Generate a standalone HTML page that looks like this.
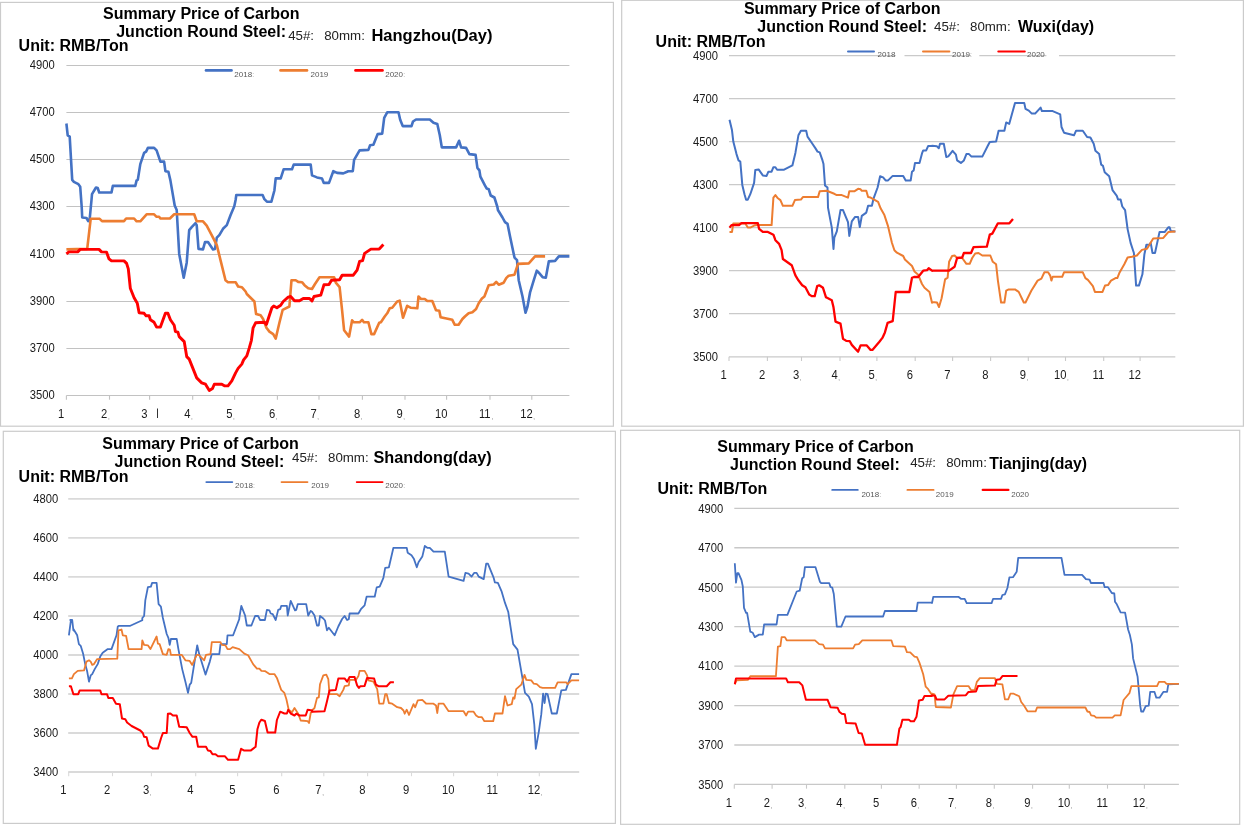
<!DOCTYPE html>
<html><head><meta charset="utf-8"><title>Summary Price of Carbon Junction Round Steel</title>
<style>
html,body{margin:0;padding:0;background:#fff;}
body{width:1245px;height:826px;overflow:hidden;}
svg{display:block;font-family:"Liberation Sans", Arial, sans-serif;}
</style></head><body>
<svg width="1245" height="826" viewBox="0 0 1245 826">
<rect x="0" y="0" width="1245" height="826" fill="#fff"/>
<rect x="0.5" y="2.4" width="612.9" height="423.8" fill="#fff" stroke="#CBCBCB" stroke-width="1.2"/>
<line x1="66.4" y1="65.5" x2="569.4" y2="65.5" stroke="#C2C2C2" stroke-width="1"/>
<line x1="66.4" y1="112.5" x2="569.4" y2="112.5" stroke="#C2C2C2" stroke-width="1"/>
<line x1="66.4" y1="159.5" x2="569.4" y2="159.5" stroke="#C2C2C2" stroke-width="1"/>
<line x1="66.4" y1="206.5" x2="569.4" y2="206.5" stroke="#C2C2C2" stroke-width="1"/>
<line x1="66.4" y1="254.5" x2="569.4" y2="254.5" stroke="#C2C2C2" stroke-width="1"/>
<line x1="66.4" y1="301.5" x2="569.4" y2="301.5" stroke="#C2C2C2" stroke-width="1"/>
<line x1="66.4" y1="348.5" x2="569.4" y2="348.5" stroke="#C2C2C2" stroke-width="1"/>
<line x1="66.4" y1="395.5" x2="569.4" y2="395.5" stroke="#C2C2C2" stroke-width="1"/>
<line x1="66.4" y1="395.5" x2="66.4" y2="399.7" stroke="#C2C2C2" stroke-width="1.1"/>
<line x1="109.5" y1="395.5" x2="109.5" y2="399.7" stroke="#C2C2C2" stroke-width="1.1"/>
<line x1="149.6" y1="395.5" x2="149.6" y2="399.7" stroke="#C2C2C2" stroke-width="1.1"/>
<line x1="192.7" y1="395.5" x2="192.7" y2="399.7" stroke="#C2C2C2" stroke-width="1.1"/>
<line x1="234.6" y1="395.5" x2="234.6" y2="399.7" stroke="#C2C2C2" stroke-width="1.1"/>
<line x1="277.4" y1="395.5" x2="277.4" y2="399.7" stroke="#C2C2C2" stroke-width="1.1"/>
<line x1="319" y1="395.5" x2="319" y2="399.7" stroke="#C2C2C2" stroke-width="1.1"/>
<line x1="362.4" y1="395.5" x2="362.4" y2="399.7" stroke="#C2C2C2" stroke-width="1.1"/>
<line x1="405" y1="395.5" x2="405" y2="399.7" stroke="#C2C2C2" stroke-width="1.1"/>
<line x1="446.6" y1="395.5" x2="446.6" y2="399.7" stroke="#C2C2C2" stroke-width="1.1"/>
<line x1="490" y1="395.5" x2="490" y2="399.7" stroke="#C2C2C2" stroke-width="1.1"/>
<line x1="531.8" y1="395.5" x2="531.8" y2="399.7" stroke="#C2C2C2" stroke-width="1.1"/>
<text transform="translate(54.8 69) scale(0.92 1)" font-size="12.2" text-anchor="end" fill="#1a1a1a">4900</text>
<text transform="translate(54.8 116) scale(0.92 1)" font-size="12.2" text-anchor="end" fill="#1a1a1a">4700</text>
<text transform="translate(54.8 163) scale(0.92 1)" font-size="12.2" text-anchor="end" fill="#1a1a1a">4500</text>
<text transform="translate(54.8 210) scale(0.92 1)" font-size="12.2" text-anchor="end" fill="#1a1a1a">4300</text>
<text transform="translate(54.8 258) scale(0.92 1)" font-size="12.2" text-anchor="end" fill="#1a1a1a">4100</text>
<text transform="translate(54.8 305) scale(0.92 1)" font-size="12.2" text-anchor="end" fill="#1a1a1a">3900</text>
<text transform="translate(54.8 352) scale(0.92 1)" font-size="12.2" text-anchor="end" fill="#1a1a1a">3700</text>
<text transform="translate(54.8 399) scale(0.92 1)" font-size="12.2" text-anchor="end" fill="#1a1a1a">3500</text>
<text transform="translate(61.1 418) scale(0.92 1)" font-size="12.2" text-anchor="middle" fill="#1a1a1a">1</text>
<text transform="translate(104.2 418) scale(0.92 1)" font-size="12.2" text-anchor="middle" fill="#1a1a1a">2</text>
<text x="107.7" y="418.5" font-size="8" font-weight="normal" text-anchor="start" fill="#999" >,</text>
<text transform="translate(144.3 418) scale(0.92 1)" font-size="12.2" text-anchor="middle" fill="#1a1a1a">3</text>
<text transform="translate(187.4 418) scale(0.92 1)" font-size="12.2" text-anchor="middle" fill="#1a1a1a">4</text>
<text x="190.8" y="418.5" font-size="8" font-weight="normal" text-anchor="start" fill="#999" >,</text>
<text transform="translate(229.3 418) scale(0.92 1)" font-size="12.2" text-anchor="middle" fill="#1a1a1a">5</text>
<text x="232.8" y="418.5" font-size="8" font-weight="normal" text-anchor="start" fill="#999" >,</text>
<text transform="translate(272.1 418) scale(0.92 1)" font-size="12.2" text-anchor="middle" fill="#1a1a1a">6</text>
<text x="275.5" y="418.5" font-size="8" font-weight="normal" text-anchor="start" fill="#999" >,</text>
<text transform="translate(313.7 418) scale(0.92 1)" font-size="12.2" text-anchor="middle" fill="#1a1a1a">7</text>
<text x="317.1" y="418.5" font-size="8" font-weight="normal" text-anchor="start" fill="#999" >,</text>
<text transform="translate(357.1 418) scale(0.92 1)" font-size="12.2" text-anchor="middle" fill="#1a1a1a">8</text>
<text x="360.5" y="418.5" font-size="8" font-weight="normal" text-anchor="start" fill="#999" >,</text>
<text transform="translate(399.7 418) scale(0.92 1)" font-size="12.2" text-anchor="middle" fill="#1a1a1a">9</text>
<text x="403.1" y="418.5" font-size="8" font-weight="normal" text-anchor="start" fill="#999" >,</text>
<text transform="translate(441.3 418) scale(0.92 1)" font-size="12.2" text-anchor="middle" fill="#1a1a1a">10</text>
<text transform="translate(484.7 418) scale(0.92 1)" font-size="12.2" text-anchor="middle" fill="#1a1a1a">11</text>
<text x="491.3" y="418.5" font-size="8" font-weight="normal" text-anchor="start" fill="#999" >,</text>
<text transform="translate(526.5 418) scale(0.92 1)" font-size="12.2" text-anchor="middle" fill="#1a1a1a">12</text>
<text x="533.1" y="418.5" font-size="8" font-weight="normal" text-anchor="start" fill="#999" >,</text>
<line x1="157.5" y1="408.5" x2="157.5" y2="418" stroke="#333" stroke-width="1"/>
<polyline points="66.4,123.5 67.7,135.3 69.7,136.6 72.2,179.9 73.9,181.9 78.4,184.2 80.2,186.7 81.7,207.0 82.2,217.5 86.5,218.0 88.2,221.1 89.7,218.8 91.5,200.0 92.0,194.2 96.0,187.5 97.7,188.0 99.2,192.5 111.5,192.5 112.8,185.9 135.3,185.9 136.6,180.4 137.8,179.9 140.3,164.1 144.1,152.9 146.1,151.6 147.9,147.9 154.1,147.9 156.6,150.4 160.4,161.6 164.1,161.6 165.4,171.2 168.4,171.7 170.4,180.4 174.7,205.5 176.7,210.0 179.2,253.9 183.7,277.7 186.7,262.7 189.2,230.1 191.7,227.1 195.5,223.1 196.7,225.1 198.5,248.9 203.0,249.4 205.0,242.1 208.0,242.1 213.0,249.4 215.0,248.9 216.8,237.6 219.3,235.1 223.0,228.8 226.8,225.1 230.6,215.0 234.3,206.3 235.6,200.0 236.3,195.0 262.6,195.0 264.4,199.2 266.9,201.7 271.4,201.7 274.4,190.5 275.7,178.4 280.7,178.4 283.7,169.2 292.0,169.2 293.7,164.6 310.7,164.6 312.0,175.4 312.0,175.4 317.0,177.4 322.0,178.4 323.8,182.9 329.0,182.9 333.3,171.2 337.1,172.9 343.3,173.4 348.3,171.2 352.8,171.2 354.1,159.9 359.6,150.4 368.4,149.9 370.1,145.3 373.4,144.8 377.7,134.1 382.2,133.6 384.2,117.8 387.2,112.3 398.5,112.3 400.2,119.8 402.7,126.1 411.5,126.1 413.0,121.5 416.0,119.5 429.8,119.5 433.5,122.8 437.3,124.0 439.8,135.3 441.8,147.4 456.1,147.4 459.1,140.8 461.1,147.4 466.1,147.9 469.4,154.1 475.6,154.9 477.4,167.9 479.4,170.4 480.4,176.7 484.9,185.4 486.7,188.5 488.7,189.2 490.7,195.5 494.4,197.5 497.4,207.0 497.9,210.0 502.5,217.5 505.0,222.1 507.5,223.8 510.0,236.3 514.5,257.6 517.0,260.1 518.7,280.2 522.5,296.5 525.5,312.8 527.5,306.5 530.0,292.7 533.8,280.2 536.8,270.7 538.8,272.7 542.6,277.2 545.8,277.7 548.8,261.4 555.1,260.9 558.8,256.4 569.4,256.4" fill="none" stroke="#4472C4" stroke-width="2.6" stroke-linejoin="round" stroke-linecap="butt"/>
<polyline points="66.4,249.4 87.2,248.9 90.7,218.8 99.7,218.8 102.0,221.1 124.0,221.1 126.1,218.5 134.1,218.5 136.6,221.3 140.3,221.3 146.6,214.3 154.1,214.3 156.6,216.8 159.1,216.8 160.4,218.5 169.9,218.5 174.2,214.3 194.2,214.3 196.7,221.3 203.0,221.3 206.7,225.6 213.0,237.6 216.8,245.1 220.5,260.1 225.5,280.2 228.0,282.2 235.6,282.2 238.1,286.5 241.8,287.2 245.6,291.5 246.8,294.0 254.4,301.5 256.1,314.0 260.6,315.3 263.1,319.0 266.4,327.8 269.4,331.6 273.2,334.1 275.7,338.6 279.4,322.8 282.7,309.8 289.4,306.5 291.5,280.2 295.7,280.2 298.2,281.9 302.0,282.2 304.5,285.2 308.2,288.2 312.0,289.0 312.0,289.0 315.0,284.0 319.5,277.2 334.1,277.2 335.8,282.7 339.6,287.2 342.1,310.3 344.1,330.3 349.1,336.6 352.1,320.3 353.9,322.3 359.6,322.3 362.1,319.8 363.9,322.3 368.4,322.3 371.4,334.1 374.1,334.1 379.2,322.8 380.9,322.3 384.7,316.5 387.2,313.3 389.7,308.3 392.2,307.8 397.2,301.5 399.7,300.7 403.0,317.8 407.2,305.8 411.0,307.8 417.3,308.3 418.5,296.5 421.0,299.0 424.8,299.0 427.3,301.0 432.3,301.0 436.0,310.3 439.3,310.8 440.6,317.3 452.3,319.8 454.8,324.8 458.6,324.8 462.4,319.0 464.9,316.5 468.6,313.3 472.4,312.3 476.1,309.0 478.7,303.2 481.9,298.5 484.4,296.5 488.7,285.2 493.7,284.5 496.2,281.9 498.7,284.7 503.7,282.7 506.2,278.2 508.7,275.7 514.5,274.7 518.0,263.9 528.8,263.4 535.0,256.4 545.1,256.4" fill="none" stroke="#ED7D31" stroke-width="2.6" stroke-linejoin="round" stroke-linecap="butt"/>
<polyline points="66.4,253.9 68.9,251.9 77.7,251.9 80.2,249.4 99.0,249.4 101.5,251.9 106.5,252.1 109.0,258.9 111.5,260.9 124.0,260.9 126.6,263.4 128.3,268.9 130.3,288.2 134.1,297.7 137.3,303.2 139.1,312.8 144.1,313.3 146.1,315.8 149.1,315.8 150.4,319.8 154.1,322.3 156.6,327.1 160.4,327.1 165.4,313.3 167.9,313.3 170.4,319.8 174.2,325.3 175.4,331.6 177.9,332.1 179.2,336.6 184.2,341.6 186.7,356.6 189.2,359.1 196.7,377.9 201.7,382.9 205.5,384.2 209.3,390.5 212.5,388.5 214.3,384.2 221.8,384.2 224.8,385.9 228.0,385.9 231.8,380.9 235.6,372.9 238.1,368.4 241.8,364.1 243.6,359.9 246.8,355.9 249.3,347.9 251.4,340.3 253.1,327.8 255.6,322.8 264.4,322.3 266.4,324.5 269.4,315.3 271.9,307.8 273.7,306.0 276.9,307.8 280.7,305.3 283.2,301.5 288.2,297.2 290.7,296.5 294.5,300.7 299.5,300.7 303.2,298.5 309.5,298.5 312.0,301.0 312.0,301.0 314.0,296.5 320.8,295.2 324.0,284.7 329.0,284.5 331.5,280.2 339.6,279.7 342.1,275.2 353.3,275.2 357.1,270.2 359.6,261.4 362.6,260.6 364.6,253.4 370.9,249.1 379.2,249.1 383.4,244.6" fill="none" stroke="#FF0000" stroke-width="2.9" stroke-linejoin="round" stroke-linecap="butt"/>
<line x1="206" y1="70.4" x2="231.5" y2="70.4" stroke="#4472C4" stroke-width="2.6" stroke-linecap="round"/>
<text x="234.3" y="76.6" font-size="8" font-weight="normal" text-anchor="start" fill="#595959" >2018</text>
<text x="252.3" y="76.6" font-size="7" font-weight="normal" text-anchor="start" fill="#aaa" >:</text>
<line x1="280.5" y1="70.4" x2="307" y2="70.4" stroke="#ED7D31" stroke-width="2.6" stroke-linecap="round"/>
<text x="310.5" y="76.6" font-size="8" font-weight="normal" text-anchor="start" fill="#595959" >2019</text>
<line x1="355.5" y1="70.4" x2="382.5" y2="70.4" stroke="#FF0000" stroke-width="2.6" stroke-linecap="round"/>
<text x="385.2" y="76.6" font-size="8" font-weight="normal" text-anchor="start" fill="#595959" >2020</text>
<text x="403.2" y="76.6" font-size="7" font-weight="normal" text-anchor="start" fill="#aaa" >:</text>
<text x="201.3" y="18.8" font-size="16" font-weight="bold" text-anchor="middle" fill="#000" >Summary Price of Carbon</text>
<text x="201.1" y="37" font-size="16" font-weight="bold" text-anchor="middle" fill="#000" >Junction Round Steel:</text>
<text x="288.2" y="40.4" font-size="13.3" font-weight="normal" text-anchor="start" fill="#222" >45#:</text>
<text x="324.2" y="40.4" font-size="13.3" font-weight="normal" text-anchor="start" fill="#222" >80mm:</text>
<text x="371.4" y="41" font-size="16" font-weight="bold" text-anchor="start" fill="#000" textLength="121" lengthAdjust="spacingAndGlyphs">Hangzhou(Day)</text>
<text x="18.6" y="51.4" font-size="16" font-weight="bold" text-anchor="start" fill="#000" >Unit: RMB/Ton</text>
<rect x="621.7" y="0.3" width="621.7" height="425.9" fill="#fff" stroke="#CBCBCB" stroke-width="1.2"/>
<line x1="729" y1="55.6" x2="895.7" y2="55.6" stroke="#CACACA" stroke-width="1.3"/>
<line x1="904.5" y1="55.6" x2="971" y2="55.6" stroke="#CACACA" stroke-width="1.3"/>
<line x1="979.3" y1="55.6" x2="1046.4" y2="55.6" stroke="#CACACA" stroke-width="1.3"/>
<line x1="1059" y1="55.6" x2="1175.3" y2="55.6" stroke="#CACACA" stroke-width="1.3"/>
<line x1="729" y1="98.7" x2="1175.3" y2="98.7" stroke="#CACACA" stroke-width="1.3"/>
<line x1="729" y1="141.7" x2="1175.3" y2="141.7" stroke="#CACACA" stroke-width="1.3"/>
<line x1="729" y1="184.7" x2="1175.3" y2="184.7" stroke="#CACACA" stroke-width="1.3"/>
<line x1="729" y1="227.7" x2="1175.3" y2="227.7" stroke="#CACACA" stroke-width="1.3"/>
<line x1="729" y1="270.7" x2="1175.3" y2="270.7" stroke="#CACACA" stroke-width="1.3"/>
<line x1="729" y1="313.7" x2="1175.3" y2="313.7" stroke="#CACACA" stroke-width="1.3"/>
<line x1="729" y1="356.8" x2="1175.3" y2="356.8" stroke="#CACACA" stroke-width="1.3"/>
<line x1="729" y1="356.8" x2="729" y2="361.0" stroke="#CACACA" stroke-width="1.1"/>
<line x1="767.4" y1="356.8" x2="767.4" y2="361.0" stroke="#CACACA" stroke-width="1.1"/>
<line x1="801.5" y1="356.8" x2="801.5" y2="361.0" stroke="#CACACA" stroke-width="1.1"/>
<line x1="840" y1="356.8" x2="840" y2="361.0" stroke="#CACACA" stroke-width="1.1"/>
<line x1="876.9" y1="356.8" x2="876.9" y2="361.0" stroke="#CACACA" stroke-width="1.1"/>
<line x1="915.2" y1="356.8" x2="915.2" y2="361.0" stroke="#CACACA" stroke-width="1.1"/>
<line x1="952.6" y1="356.8" x2="952.6" y2="361.0" stroke="#CACACA" stroke-width="1.1"/>
<line x1="990.6" y1="356.8" x2="990.6" y2="361.0" stroke="#CACACA" stroke-width="1.1"/>
<line x1="1028.3" y1="356.8" x2="1028.3" y2="361.0" stroke="#CACACA" stroke-width="1.1"/>
<line x1="1065.5" y1="356.8" x2="1065.5" y2="361.0" stroke="#CACACA" stroke-width="1.1"/>
<line x1="1103.7" y1="356.8" x2="1103.7" y2="361.0" stroke="#CACACA" stroke-width="1.1"/>
<line x1="1140.1" y1="356.8" x2="1140.1" y2="361.0" stroke="#CACACA" stroke-width="1.1"/>
<text transform="translate(718 60) scale(0.92 1)" font-size="12.2" text-anchor="end" fill="#1a1a1a">4900</text>
<text transform="translate(718 103) scale(0.92 1)" font-size="12.2" text-anchor="end" fill="#1a1a1a">4700</text>
<text transform="translate(718 146) scale(0.92 1)" font-size="12.2" text-anchor="end" fill="#1a1a1a">4500</text>
<text transform="translate(718 189) scale(0.92 1)" font-size="12.2" text-anchor="end" fill="#1a1a1a">4300</text>
<text transform="translate(718 232) scale(0.92 1)" font-size="12.2" text-anchor="end" fill="#1a1a1a">4100</text>
<text transform="translate(718 275) scale(0.92 1)" font-size="12.2" text-anchor="end" fill="#1a1a1a">3900</text>
<text transform="translate(718 318) scale(0.92 1)" font-size="12.2" text-anchor="end" fill="#1a1a1a">3700</text>
<text transform="translate(718 361) scale(0.92 1)" font-size="12.2" text-anchor="end" fill="#1a1a1a">3500</text>
<text transform="translate(723.7 379.1) scale(0.92 1)" font-size="12.2" text-anchor="middle" fill="#1a1a1a">1</text>
<text transform="translate(762.1 379.1) scale(0.92 1)" font-size="12.2" text-anchor="middle" fill="#1a1a1a">2</text>
<text transform="translate(796.2 379.1) scale(0.92 1)" font-size="12.2" text-anchor="middle" fill="#1a1a1a">3</text>
<text x="799.6" y="379.6" font-size="8" font-weight="normal" text-anchor="start" fill="#999" >,</text>
<text transform="translate(834.7 379.1) scale(0.92 1)" font-size="12.2" text-anchor="middle" fill="#1a1a1a">4</text>
<text x="838.1" y="379.6" font-size="8" font-weight="normal" text-anchor="start" fill="#999" >,</text>
<text transform="translate(871.6 379.1) scale(0.92 1)" font-size="12.2" text-anchor="middle" fill="#1a1a1a">5</text>
<text x="875.0" y="379.6" font-size="8" font-weight="normal" text-anchor="start" fill="#999" >,</text>
<text transform="translate(909.9 379.1) scale(0.92 1)" font-size="12.2" text-anchor="middle" fill="#1a1a1a">6</text>
<text transform="translate(947.3 379.1) scale(0.92 1)" font-size="12.2" text-anchor="middle" fill="#1a1a1a">7</text>
<text transform="translate(985.3 379.1) scale(0.92 1)" font-size="12.2" text-anchor="middle" fill="#1a1a1a">8</text>
<text transform="translate(1023.0 379.1) scale(0.92 1)" font-size="12.2" text-anchor="middle" fill="#1a1a1a">9</text>
<text x="1026.5" y="379.6" font-size="8" font-weight="normal" text-anchor="start" fill="#999" >,</text>
<text transform="translate(1060.2 379.1) scale(0.92 1)" font-size="12.2" text-anchor="middle" fill="#1a1a1a">10</text>
<text x="1066.8" y="379.6" font-size="8" font-weight="normal" text-anchor="start" fill="#999" >,</text>
<text transform="translate(1098.4 379.1) scale(0.92 1)" font-size="12.2" text-anchor="middle" fill="#1a1a1a">11</text>
<text transform="translate(1134.8 379.1) scale(0.92 1)" font-size="12.2" text-anchor="middle" fill="#1a1a1a">12</text>
<polyline points="729.5,119.8 732.0,130.3 733.3,141.6 736.5,154.1 738.5,160.4 740.3,161.6 742.3,184.9 744.5,194.2 746.1,199.7 747.8,199.7 750.3,194.2 754.1,182.9 755.3,169.9 758.6,169.4 762.8,175.4 766.6,175.9 768.4,171.7 771.6,171.7 773.4,167.2 775.4,167.2 777.1,169.7 784.1,169.7 792.4,165.4 795.4,152.9 798.4,135.3 800.9,130.8 806.2,130.8 807.5,136.6 811.7,142.8 815.5,148.4 817.5,151.6 819.7,152.4 822.5,160.4 823.5,164.1 825.0,185.4 827.5,187.5 828.0,207.6 831.8,227.6 833.5,248.9 834.3,237.7 836.8,231.4 840.5,210.1 843.0,210.1 848.0,222.1 849.3,235.9 851.8,221.4 855.1,216.9 858.1,216.9 859.8,227.1 861.8,215.9 866.3,212.6 868.1,205.8 871.9,205.8 873.6,198.3 877.6,187.5 880.1,176.3 883.1,177.4 885.6,180.4 888.1,180.4 892.7,175.9 903.2,175.9 905.7,180.4 910.7,180.4 912.0,171.7 913.7,170.4 915.0,162.9 919.5,162.9 922.0,153.4 923.2,150.4 926.2,150.4 928.2,145.9 932.0,145.9 932.0,145.8 937.0,146.3 938.8,148.3 940.0,143.8 943.8,143.8 946.3,157.1 948.3,156.4 952.6,150.8 955.9,154.6 957.1,160.4 960.9,162.9 963.9,160.4 966.4,154.1 969.0,154.1 971.5,156.6 982.3,156.6 987.8,145.8 989.8,142.0 996.1,141.5 998.6,130.7 1004.4,130.7 1006.2,122.4 1009.2,123.9 1015.0,103.1 1024.3,103.1 1025.5,108.9 1028.8,110.6 1031.8,113.6 1035.1,113.6 1040.6,107.6 1041.9,111.1 1052.7,111.1 1060.2,114.4 1061.5,127.0 1064.0,132.7 1074.0,135.3 1076.1,130.7 1082.8,130.7 1087.1,137.0 1090.4,137.5 1093.7,143.8 1095.4,150.8 1099.2,154.1 1101.2,164.7 1103.0,165.9 1104.7,172.2 1109.2,176.3 1112.5,190.1 1116.8,195.9 1118.0,199.4 1120.6,199.4 1122.3,206.5 1125.1,210.2 1127.6,229.1 1130.6,242.9 1133.9,253.0 1136.1,285.6 1138.9,285.6 1142.4,274.3 1144.4,254.2 1146.4,244.7 1149.5,244.7 1150.7,242.9 1152.5,253.0 1155.0,253.0 1159.5,232.1 1164.6,232.1 1168.3,227.3 1169.6,227.3 1170.8,231.1 1175.4,231.6" fill="none" stroke="#4472C4" stroke-width="2.0" stroke-linejoin="round" stroke-linecap="butt"/>
<polyline points="729.5,231.9 732.0,231.9 733.3,223.4 745.3,223.4 747.8,227.6 750.3,227.6 754.1,225.6 757.3,225.1 771.6,225.1 773.4,197.6 775.4,195.1 777.9,198.3 780.4,200.1 782.9,205.8 792.4,205.8 794.9,200.1 800.9,199.6 802.9,197.1 818.0,197.1 819.7,191.3 826.7,190.8 834.3,193.8 836.8,195.1 841.8,195.1 848.0,197.6 849.3,191.3 854.3,191.3 858.1,188.8 860.6,189.3 861.8,190.8 866.3,190.8 868.1,197.1 870.6,197.6 878.1,201.8 880.6,208.3 884.4,215.1 888.1,226.4 891.9,242.7 894.4,250.2 896.9,252.7 903.2,256.0 904.9,259.5 912.0,266.0 914.5,271.5 918.2,274.8 922.0,284.0 924.5,287.8 929.5,292.0 932.0,302.8 932.0,302.0 937.0,302.5 939.0,307.0 941.6,298.2 945.1,279.4 947.6,277.6 949.1,261.8 952.1,256.0 954.6,255.5 957.1,258.0 962.2,258.0 966.4,263.8 969.7,263.8 972.2,258.0 975.2,253.5 978.5,253.0 982.3,255.5 990.3,255.5 992.8,261.8 996.1,264.3 997.9,280.6 1001.1,302.5 1004.4,302.5 1006.2,290.7 1008.7,289.4 1015.0,289.4 1018.7,291.9 1023.8,302.5 1025.5,302.5 1031.3,290.7 1037.6,280.6 1041.4,278.6 1044.4,272.3 1048.1,272.3 1050.2,275.6 1051.4,280.6 1052.7,276.8 1062.2,276.8 1064.0,272.3 1082.8,272.3 1085.4,278.1 1087.9,279.9 1092.9,286.1 1094.9,291.9 1102.5,291.9 1105.0,285.6 1108.0,285.1 1111.0,280.6 1115.5,278.1 1117.3,278.1 1119.3,273.1 1124.3,264.3 1127.6,257.5 1131.9,256.7 1136.9,255.5 1141.9,249.9 1147.0,248.7 1153.2,238.4 1163.3,237.9 1168.3,232.1 1175.4,231.6" fill="none" stroke="#ED7D31" stroke-width="2.0" stroke-linejoin="round" stroke-linecap="butt"/>
<polyline points="729.5,227.6 731.5,225.1 739.0,225.1 741.5,223.1 757.8,223.1 759.1,228.9 762.8,231.9 767.9,231.9 773.4,234.7 775.4,240.2 779.1,243.9 781.6,250.2 782.9,259.0 791.7,265.2 795.4,275.3 798.4,280.3 802.2,285.3 805.4,287.3 809.2,294.5 811.7,296.1 814.7,296.1 817.2,286.0 819.2,285.3 823.0,287.8 826.0,297.3 828.0,298.3 831.8,300.3 833.5,307.3 835.5,321.6 840.5,323.6 843.0,338.7 846.3,340.9 849.8,341.2 851.8,344.9 858.1,351.7 860.6,345.4 866.8,345.4 870.6,349.9 872.4,349.9 879.4,341.7 882.4,337.9 884.9,332.4 887.6,322.9 892.7,321.1 895.7,292.0 909.4,292.0 912.0,277.8 914.0,277.0 918.2,277.0 923.2,270.7 927.0,270.2 928.7,268.2 932.0,270.7 932.0,270.6 949.1,270.6 954.6,266.8 957.1,258.0 962.2,257.5 963.9,253.0 971.0,253.0 973.5,247.2 986.8,246.7 989.8,234.6 992.3,233.6 997.9,223.3 1009.4,223.3 1013.0,219.0" fill="none" stroke="#FF0000" stroke-width="2.3" stroke-linejoin="round" stroke-linecap="butt"/>
<line x1="848" y1="51.4" x2="874" y2="51.4" stroke="#4472C4" stroke-width="2.0" stroke-linecap="round"/>
<text x="877.6" y="57.1" font-size="8" font-weight="normal" text-anchor="start" fill="#595959" >2018</text>
<line x1="923" y1="51.4" x2="949.4" y2="51.4" stroke="#ED7D31" stroke-width="2.0" stroke-linecap="round"/>
<text x="952.1" y="57.1" font-size="8" font-weight="normal" text-anchor="start" fill="#595959" >2019</text>
<text x="970.1" y="57.1" font-size="7" font-weight="normal" text-anchor="start" fill="#aaa" >:</text>
<line x1="998.3" y1="51.4" x2="1024.8" y2="51.4" stroke="#FF0000" stroke-width="2.0" stroke-linecap="round"/>
<text x="1027" y="57.1" font-size="8" font-weight="normal" text-anchor="start" fill="#595959" >2020</text>
<text x="842.2" y="13.6" font-size="16" font-weight="bold" text-anchor="middle" fill="#000" >Summary Price of Carbon</text>
<text x="842.2" y="32" font-size="16" font-weight="bold" text-anchor="middle" fill="#000" >Junction Round Steel:</text>
<text x="934.0" y="30.8" font-size="13.3" font-weight="normal" text-anchor="start" fill="#222" >45#:</text>
<text x="970.0" y="30.8" font-size="13.3" font-weight="normal" text-anchor="start" fill="#222" >80mm:</text>
<text x="1018" y="32" font-size="16" font-weight="bold" text-anchor="start" fill="#000" >Wuxi(day)</text>
<text x="655.6" y="47" font-size="16" font-weight="bold" text-anchor="start" fill="#000" >Unit: RMB/Ton</text>
<rect x="3.3" y="431.3" width="612.1" height="392.09999999999997" fill="#fff" stroke="#CBCBCB" stroke-width="1.2"/>
<line x1="68.2" y1="498.9" x2="579.2" y2="498.9" stroke="#DADADA" stroke-width="1.8"/>
<line x1="68.2" y1="537.9" x2="579.2" y2="537.9" stroke="#DADADA" stroke-width="1.8"/>
<line x1="68.2" y1="576.9" x2="579.2" y2="576.9" stroke="#DADADA" stroke-width="1.8"/>
<line x1="68.2" y1="616.0" x2="579.2" y2="616.0" stroke="#DADADA" stroke-width="1.8"/>
<line x1="68.2" y1="655.0" x2="579.2" y2="655.0" stroke="#DADADA" stroke-width="1.8"/>
<line x1="68.2" y1="694.0" x2="579.2" y2="694.0" stroke="#DADADA" stroke-width="1.8"/>
<line x1="68.2" y1="733.0" x2="579.2" y2="733.0" stroke="#DADADA" stroke-width="1.8"/>
<line x1="68.2" y1="772.0" x2="579.2" y2="772.0" stroke="#DADADA" stroke-width="1.8"/>
<line x1="68.7" y1="772.0" x2="68.7" y2="776.2" stroke="#DADADA" stroke-width="1.1"/>
<line x1="112.5" y1="772.0" x2="112.5" y2="776.2" stroke="#DADADA" stroke-width="1.1"/>
<line x1="151.4" y1="772.0" x2="151.4" y2="776.2" stroke="#DADADA" stroke-width="1.1"/>
<line x1="195.7" y1="772.0" x2="195.7" y2="776.2" stroke="#DADADA" stroke-width="1.1"/>
<line x1="237.6" y1="772.0" x2="237.6" y2="776.2" stroke="#DADADA" stroke-width="1.1"/>
<line x1="281.7" y1="772.0" x2="281.7" y2="776.2" stroke="#DADADA" stroke-width="1.1"/>
<line x1="323.8" y1="772.0" x2="323.8" y2="776.2" stroke="#DADADA" stroke-width="1.1"/>
<line x1="367.6" y1="772.0" x2="367.6" y2="776.2" stroke="#DADADA" stroke-width="1.1"/>
<line x1="411.5" y1="772.0" x2="411.5" y2="776.2" stroke="#DADADA" stroke-width="1.1"/>
<line x1="453.6" y1="772.0" x2="453.6" y2="776.2" stroke="#DADADA" stroke-width="1.1"/>
<line x1="497.5" y1="772.0" x2="497.5" y2="776.2" stroke="#DADADA" stroke-width="1.1"/>
<line x1="539.3" y1="772.0" x2="539.3" y2="776.2" stroke="#DADADA" stroke-width="1.1"/>
<text transform="translate(58.2 503) scale(0.92 1)" font-size="12.2" text-anchor="end" fill="#1a1a1a">4800</text>
<text transform="translate(58.2 542) scale(0.92 1)" font-size="12.2" text-anchor="end" fill="#1a1a1a">4600</text>
<text transform="translate(58.2 581) scale(0.92 1)" font-size="12.2" text-anchor="end" fill="#1a1a1a">4400</text>
<text transform="translate(58.2 620) scale(0.92 1)" font-size="12.2" text-anchor="end" fill="#1a1a1a">4200</text>
<text transform="translate(58.2 659) scale(0.92 1)" font-size="12.2" text-anchor="end" fill="#1a1a1a">4000</text>
<text transform="translate(58.2 698) scale(0.92 1)" font-size="12.2" text-anchor="end" fill="#1a1a1a">3800</text>
<text transform="translate(58.2 737) scale(0.92 1)" font-size="12.2" text-anchor="end" fill="#1a1a1a">3600</text>
<text transform="translate(58.2 776) scale(0.92 1)" font-size="12.2" text-anchor="end" fill="#1a1a1a">3400</text>
<text transform="translate(63.4 794.3) scale(0.92 1)" font-size="12.2" text-anchor="middle" fill="#1a1a1a">1</text>
<text transform="translate(107.2 794.3) scale(0.92 1)" font-size="12.2" text-anchor="middle" fill="#1a1a1a">2</text>
<text transform="translate(146.1 794.3) scale(0.92 1)" font-size="12.2" text-anchor="middle" fill="#1a1a1a">3</text>
<text x="149.6" y="794.8" font-size="8" font-weight="normal" text-anchor="start" fill="#999" >,</text>
<text transform="translate(190.4 794.3) scale(0.92 1)" font-size="12.2" text-anchor="middle" fill="#1a1a1a">4</text>
<text transform="translate(232.3 794.3) scale(0.92 1)" font-size="12.2" text-anchor="middle" fill="#1a1a1a">5</text>
<text transform="translate(276.4 794.3) scale(0.92 1)" font-size="12.2" text-anchor="middle" fill="#1a1a1a">6</text>
<text transform="translate(318.5 794.3) scale(0.92 1)" font-size="12.2" text-anchor="middle" fill="#1a1a1a">7</text>
<text x="321.9" y="794.8" font-size="8" font-weight="normal" text-anchor="start" fill="#999" >,</text>
<text transform="translate(362.3 794.3) scale(0.92 1)" font-size="12.2" text-anchor="middle" fill="#1a1a1a">8</text>
<text transform="translate(406.2 794.3) scale(0.92 1)" font-size="12.2" text-anchor="middle" fill="#1a1a1a">9</text>
<text transform="translate(448.3 794.3) scale(0.92 1)" font-size="12.2" text-anchor="middle" fill="#1a1a1a">10</text>
<text transform="translate(492.2 794.3) scale(0.92 1)" font-size="12.2" text-anchor="middle" fill="#1a1a1a">11</text>
<text transform="translate(534.0 794.3) scale(0.92 1)" font-size="12.2" text-anchor="middle" fill="#1a1a1a">12</text>
<text x="540.6" y="794.8" font-size="8" font-weight="normal" text-anchor="start" fill="#999" >,</text>
<polyline points="68.9,635.3 70.9,620.3 70.2,620.0 72.2,620.0 73.4,630.5 73.4,629.0 77.2,635.3 78.9,644.1 80.7,645.8 83.2,654.1 85.2,664.1 87.2,671.6 89.0,681.7 90.7,675.4 92.2,674.1 94.7,669.1 97.7,664.1 100.2,656.6 102.7,652.8 107.8,649.1 111.5,649.1 116.5,635.3 117.8,626.5 119.0,625.8 130.3,625.8 142.3,620.3 142.3,618.0 144.1,616.0 145.3,600.4 147.9,587.1 150.9,586.6 152.1,582.9 156.6,582.9 158.6,604.2 160.9,606.7 162.9,618.0 166.7,634.0 168.4,637.8 169.7,644.8 170.9,639.0 176.7,639.0 178.4,649.1 182.2,669.1 185.4,681.7 188.0,692.9 189.7,684.7 191.2,682.9 194.2,664.1 197.2,645.3 199.2,654.1 205.5,674.6 209.8,661.6 211.8,654.1 219.3,654.1 220.5,644.1 226.8,644.1 227.5,635.3 233.1,635.3 239.3,619.0 239.3,618.0 241.3,605.9 245.1,615.5 246.8,625.5 251.4,625.5 255.1,616.0 258.1,616.0 260.1,620.0 264.9,620.0 266.9,609.9 269.4,610.4 270.7,613.5 272.7,614.2 275.7,620.0 278.2,609.9 280.2,609.2 281.2,605.9 286.9,605.9 287.7,615.5 290.7,600.9 295.0,610.4 296.2,609.9 297.7,604.2 306.2,604.2 308.2,615.5 310.7,610.9 312.0,611.7 312.0,611.7 314.5,615.5 317.0,625.5 318.8,625.5 320.0,616.0 323.3,618.5 325.0,620.5 327.0,630.3 328.8,627.8 334.6,635.3 338.3,626.5 342.1,619.0 344.6,616.0 347.1,620.0 348.8,619.2 349.6,613.5 358.4,613.5 360.9,609.2 364.6,605.4 366.6,596.7 374.7,596.7 376.7,587.4 379.7,586.6 383.4,577.9 385.2,567.8 388.9,567.3 393.4,547.8 406.7,547.8 407.7,552.8 411.5,555.3 414.0,559.1 416.8,567.3 418.5,562.3 422.3,556.6 424.8,546.0 427.3,547.8 429.8,547.8 433.5,551.6 444.8,551.6 448.6,576.6 463.6,580.9 465.4,572.9 468.6,573.6 471.6,576.6 474.1,572.9 476.6,572.9 478.7,576.6 483.7,579.1 486.2,563.6 487.9,563.6 493.7,577.9 494.9,582.4 497.9,582.9 501.7,591.7 505.0,602.9 508.2,611.7 513.2,644.1 517.5,649.6 525.0,692.9 528.8,696.7 532.0,704.2 534.3,724.3 535.8,748.8 538.8,731.8 541.3,714.2 543.1,693.7 544.6,703.0 545.8,693.7 547.6,694.2 551.8,713.5 556.8,713.5 561.3,690.4 565.9,689.9 571.4,674.1 579.1,674.1" fill="none" stroke="#4472C4" stroke-width="1.8" stroke-linejoin="round" stroke-linecap="butt"/>
<polyline points="68.9,678.4 71.9,678.4 73.9,674.1 77.7,670.9 84.0,670.4 86.5,661.6 89.0,660.3 90.7,661.6 92.2,664.9 94.0,664.1 97.2,659.1 117.3,658.6 118.5,630.3 121.5,629.5 122.8,635.3 126.1,635.8 128.6,649.1 141.6,649.1 142.3,640.3 144.1,644.8 147.9,645.3 150.4,649.1 156.6,636.5 157.9,643.6 159.6,644.1 162.9,654.1 166.7,654.8 168.4,649.1 169.9,649.6 170.9,654.8 181.7,654.8 185.4,660.3 189.7,660.9 192.2,664.9 196.7,654.8 198.7,654.8 204.2,660.3 206.0,654.8 210.5,654.1 211.8,642.1 220.5,642.1 221.8,644.8 225.5,645.3 227.5,649.1 230.1,649.1 232.6,647.1 239.3,649.1 244.3,653.6 248.1,655.3 253.1,664.1 256.9,668.6 259.4,668.6 261.4,670.9 264.9,671.1 269.4,674.1 274.4,674.1 276.9,677.9 281.2,689.9 284.4,692.9 286.4,699.2 288.7,709.7 292.0,712.2 294.5,708.0 298.2,713.7 300.7,720.5 307.7,721.2 309.0,723.0 310.7,713.0 312.0,711.7 312.0,710.5 314.5,708.0 317.0,697.9 318.8,697.4 320.0,684.2 323.3,675.4 326.3,674.6 328.3,679.1 329.5,694.2 337.1,694.2 339.6,696.2 343.3,689.9 344.6,686.2 348.8,685.4 349.6,679.9 355.9,679.9 358.4,676.1 359.6,670.9 364.6,670.9 367.1,675.4 368.4,680.4 373.4,681.7 377.2,689.2 379.2,703.7 383.4,703.7 385.2,694.2 386.7,694.2 388.9,703.0 392.2,703.7 397.2,707.2 401.0,708.0 403.5,710.5 404.7,713.7 406.7,709.7 409.0,715.0 413.5,704.2 415.2,707.2 417.8,700.4 422.3,699.9 426.0,703.5 433.5,703.7 436.0,705.5 437.3,713.0 438.6,703.7 443.6,703.7 448.6,711.2 463.6,711.2 466.1,715.5 468.1,711.7 473.6,711.7 476.1,715.5 478.7,717.2 481.9,717.2 484.4,721.2 493.2,721.2 494.9,713.5 502.5,713.5 505.0,696.2 507.5,705.5 511.7,704.2 513.2,697.4 514.5,698.7 516.2,689.2 521.3,684.7 524.5,674.9 526.3,679.9 531.3,680.4 533.8,683.7 536.8,684.2 540.0,687.2 542.6,687.9 555.1,687.9 557.6,682.4 566.4,682.4 567.6,684.2 571.4,680.4 579.1,680.4" fill="none" stroke="#ED7D31" stroke-width="1.8" stroke-linejoin="round" stroke-linecap="butt"/>
<polyline points="68.9,686.2 70.9,686.2 73.4,694.2 78.2,694.2 79.7,690.4 100.2,690.4 101.5,694.2 107.0,694.2 108.3,697.9 112.8,697.9 116.0,703.7 119.8,704.2 122.0,718.5 125.3,719.2 127.1,722.5 131.6,726.0 140.3,730.5 142.8,733.0 144.1,736.8 146.6,737.3 148.6,745.6 152.9,748.6 157.9,748.6 161.1,738.0 162.9,733.0 166.7,733.0 167.9,713.7 170.4,713.5 172.9,715.5 176.7,715.5 179.2,726.8 186.7,727.3 189.7,733.0 192.5,736.8 196.2,736.8 198.0,746.8 206.0,746.8 208.0,750.6 210.5,751.1 212.5,754.3 215.5,754.3 218.0,756.3 225.0,756.3 228.0,759.8 238.1,759.8 241.1,748.8 244.3,750.6 250.6,750.6 255.6,746.8 257.4,729.3 259.4,722.5 261.4,719.7 264.9,721.0 267.6,732.5 275.2,732.5 276.9,720.0 280.2,711.7 284.4,713.5 286.9,713.5 288.2,709.7 290.7,713.5 294.5,715.5 296.2,713.7 299.5,715.5 305.7,715.5 307.7,709.7 312.0,710.5 312.0,711.7 324.5,711.2 327.0,701.2 329.5,690.4 335.8,689.9 338.3,678.6 344.6,678.4 347.1,681.7 349.6,677.1 354.6,677.1 357.1,685.4 358.9,687.9 360.4,686.2 364.6,685.9 367.1,677.9 374.1,678.4 375.9,684.7 378.4,686.2 386.7,686.2 390.4,682.2 393.9,682.2" fill="none" stroke="#FF0000" stroke-width="2.0" stroke-linejoin="round" stroke-linecap="butt"/>
<line x1="206.3" y1="482.1" x2="232.3" y2="482.1" stroke="#4472C4" stroke-width="1.8" stroke-linecap="round"/>
<text x="235.1" y="488.4" font-size="8" font-weight="normal" text-anchor="start" fill="#595959" >2018</text>
<text x="253.1" y="488.4" font-size="7" font-weight="normal" text-anchor="start" fill="#aaa" >:</text>
<line x1="281.5" y1="482.1" x2="307.5" y2="482.1" stroke="#ED7D31" stroke-width="1.8" stroke-linecap="round"/>
<text x="311.2" y="488.4" font-size="8" font-weight="normal" text-anchor="start" fill="#595959" >2019</text>
<line x1="356.7" y1="482.1" x2="382.6" y2="482.1" stroke="#FF0000" stroke-width="1.8" stroke-linecap="round"/>
<text x="385.2" y="488.4" font-size="8" font-weight="normal" text-anchor="start" fill="#595959" >2020</text>
<text x="403.2" y="488.4" font-size="7" font-weight="normal" text-anchor="start" fill="#aaa" >:</text>
<text x="200.6" y="448.8" font-size="16" font-weight="bold" text-anchor="middle" fill="#000" >Summary Price of Carbon</text>
<text x="199.4" y="467" font-size="16" font-weight="bold" text-anchor="middle" fill="#000" >Junction Round Steel:</text>
<text x="292.0" y="461.8" font-size="13.3" font-weight="normal" text-anchor="start" fill="#222" >45#:</text>
<text x="328.0" y="461.8" font-size="13.3" font-weight="normal" text-anchor="start" fill="#222" >80mm:</text>
<text x="373.4" y="463" font-size="16" font-weight="bold" text-anchor="start" fill="#000" textLength="118.3" lengthAdjust="spacingAndGlyphs">Shandong(day)</text>
<text x="18.6" y="482.4" font-size="16" font-weight="bold" text-anchor="start" fill="#000" >Unit: RMB/Ton</text>
<rect x="620.6" y="430.3" width="619.1" height="393.99999999999994" fill="#fff" stroke="#CBCBCB" stroke-width="1.2"/>
<line x1="734.3" y1="508.3" x2="1178.9" y2="508.3" stroke="#C8C8C8" stroke-width="1.3"/>
<line x1="734.3" y1="547.75" x2="1178.9" y2="547.75" stroke="#C8C8C8" stroke-width="1.3"/>
<line x1="734.3" y1="587.2" x2="1178.9" y2="587.2" stroke="#C8C8C8" stroke-width="1.3"/>
<line x1="734.3" y1="626.65" x2="1178.9" y2="626.65" stroke="#C8C8C8" stroke-width="1.3"/>
<line x1="734.3" y1="666.1" x2="1178.9" y2="666.1" stroke="#C8C8C8" stroke-width="1.3"/>
<line x1="734.3" y1="705.55" x2="1178.9" y2="705.55" stroke="#C8C8C8" stroke-width="1.3"/>
<line x1="734.3" y1="745.0" x2="1178.9" y2="745.0" stroke="#C8C8C8" stroke-width="1.3"/>
<line x1="734.3" y1="784.45" x2="1178.9" y2="784.45" stroke="#C8C8C8" stroke-width="1.3"/>
<line x1="734.3" y1="784.45" x2="734.3" y2="788.6500000000001" stroke="#C8C8C8" stroke-width="1.1"/>
<line x1="772.1" y1="784.45" x2="772.1" y2="788.6500000000001" stroke="#C8C8C8" stroke-width="1.1"/>
<line x1="806.5" y1="784.45" x2="806.5" y2="788.6500000000001" stroke="#C8C8C8" stroke-width="1.1"/>
<line x1="844.8" y1="784.45" x2="844.8" y2="788.6500000000001" stroke="#C8C8C8" stroke-width="1.1"/>
<line x1="881.4" y1="784.45" x2="881.4" y2="788.6500000000001" stroke="#C8C8C8" stroke-width="1.1"/>
<line x1="919.2" y1="784.45" x2="919.2" y2="788.6500000000001" stroke="#C8C8C8" stroke-width="1.1"/>
<line x1="956.4" y1="784.45" x2="956.4" y2="788.6500000000001" stroke="#C8C8C8" stroke-width="1.1"/>
<line x1="994.3" y1="784.45" x2="994.3" y2="788.6500000000001" stroke="#C8C8C8" stroke-width="1.1"/>
<line x1="1032.6" y1="784.45" x2="1032.6" y2="788.6500000000001" stroke="#C8C8C8" stroke-width="1.1"/>
<line x1="1069.3" y1="784.45" x2="1069.3" y2="788.6500000000001" stroke="#C8C8C8" stroke-width="1.1"/>
<line x1="1107.5" y1="784.45" x2="1107.5" y2="788.6500000000001" stroke="#C8C8C8" stroke-width="1.1"/>
<line x1="1144.4" y1="784.45" x2="1144.4" y2="788.6500000000001" stroke="#C8C8C8" stroke-width="1.1"/>
<text transform="translate(723.2 513) scale(0.92 1)" font-size="12.2" text-anchor="end" fill="#1a1a1a">4900</text>
<text transform="translate(723.2 552) scale(0.92 1)" font-size="12.2" text-anchor="end" fill="#1a1a1a">4700</text>
<text transform="translate(723.2 592) scale(0.92 1)" font-size="12.2" text-anchor="end" fill="#1a1a1a">4500</text>
<text transform="translate(723.2 631) scale(0.92 1)" font-size="12.2" text-anchor="end" fill="#1a1a1a">4300</text>
<text transform="translate(723.2 670) scale(0.92 1)" font-size="12.2" text-anchor="end" fill="#1a1a1a">4100</text>
<text transform="translate(723.2 710) scale(0.92 1)" font-size="12.2" text-anchor="end" fill="#1a1a1a">3900</text>
<text transform="translate(723.2 749) scale(0.92 1)" font-size="12.2" text-anchor="end" fill="#1a1a1a">3700</text>
<text transform="translate(723.2 789) scale(0.92 1)" font-size="12.2" text-anchor="end" fill="#1a1a1a">3500</text>
<text transform="translate(729.0 807.3) scale(0.92 1)" font-size="12.2" text-anchor="middle" fill="#1a1a1a">1</text>
<text transform="translate(766.8 807.3) scale(0.92 1)" font-size="12.2" text-anchor="middle" fill="#1a1a1a">2</text>
<text x="770.2" y="807.8" font-size="8" font-weight="normal" text-anchor="start" fill="#999" >,</text>
<text transform="translate(801.2 807.3) scale(0.92 1)" font-size="12.2" text-anchor="middle" fill="#1a1a1a">3</text>
<text x="804.6" y="807.8" font-size="8" font-weight="normal" text-anchor="start" fill="#999" >,</text>
<text transform="translate(839.5 807.3) scale(0.92 1)" font-size="12.2" text-anchor="middle" fill="#1a1a1a">4</text>
<text x="842.9" y="807.8" font-size="8" font-weight="normal" text-anchor="start" fill="#999" >,</text>
<text transform="translate(876.1 807.3) scale(0.92 1)" font-size="12.2" text-anchor="middle" fill="#1a1a1a">5</text>
<text transform="translate(913.9 807.3) scale(0.92 1)" font-size="12.2" text-anchor="middle" fill="#1a1a1a">6</text>
<text x="917.4" y="807.8" font-size="8" font-weight="normal" text-anchor="start" fill="#999" >,</text>
<text transform="translate(951.1 807.3) scale(0.92 1)" font-size="12.2" text-anchor="middle" fill="#1a1a1a">7</text>
<text x="954.5" y="807.8" font-size="8" font-weight="normal" text-anchor="start" fill="#999" >,</text>
<text transform="translate(989.0 807.3) scale(0.92 1)" font-size="12.2" text-anchor="middle" fill="#1a1a1a">8</text>
<text x="992.4" y="807.8" font-size="8" font-weight="normal" text-anchor="start" fill="#999" >,</text>
<text transform="translate(1027.3 807.3) scale(0.92 1)" font-size="12.2" text-anchor="middle" fill="#1a1a1a">9</text>
<text x="1030.8" y="807.8" font-size="8" font-weight="normal" text-anchor="start" fill="#999" >,</text>
<text transform="translate(1064.0 807.3) scale(0.92 1)" font-size="12.2" text-anchor="middle" fill="#1a1a1a">10</text>
<text x="1070.6" y="807.8" font-size="8" font-weight="normal" text-anchor="start" fill="#999" >,</text>
<text transform="translate(1102.2 807.3) scale(0.92 1)" font-size="12.2" text-anchor="middle" fill="#1a1a1a">11</text>
<text transform="translate(1139.1 807.3) scale(0.92 1)" font-size="12.2" text-anchor="middle" fill="#1a1a1a">12</text>
<text x="1145.7" y="807.8" font-size="8" font-weight="normal" text-anchor="start" fill="#999" >,</text>
<polyline points="734.8,563.2 736.0,582.7 737.3,573.2 738.5,573.2 741.5,580.2 742.8,586.5 744.0,607.8 746.1,612.8 747.1,612.8 750.3,631.6 752.8,632.8 754.8,637.1 759.1,634.6 762.8,634.6 764.1,624.5 776.6,624.5 777.9,614.8 787.4,614.8 796.7,591.5 799.7,590.7 802.2,578.2 803.7,577.2 804.9,567.2 815.5,567.2 820.0,581.9 821.2,583.2 829.3,583.2 830.5,587.0 832.3,587.7 833.8,594.0 836.8,626.6 841.3,626.6 845.5,616.5 883.1,616.5 884.9,611.0 916.5,611.0 917.7,602.7 932.0,602.7 932.0,603.1 933.3,596.8 958.4,596.8 960.9,598.8 964.7,598.8 966.7,603.1 991.6,603.1 993.1,598.8 1001.1,598.8 1002.4,595.0 1004.9,594.3 1007.4,588.0 1009.4,577.4 1013.0,577.2 1016.7,571.7 1018.2,557.8 1061.5,557.8 1064.5,574.9 1082.1,574.9 1085.9,579.2 1089.6,579.7 1090.9,583.0 1103.5,583.0 1104.7,587.2 1108.0,587.2 1111.8,593.0 1114.3,593.5 1115.0,601.8 1116.8,604.3 1120.6,612.4 1125.1,612.6 1128.1,629.5 1129.9,635.0 1131.9,644.6 1133.1,658.4 1137.6,676.8 1140.2,705.7 1141.2,711.5 1143.2,711.5 1145.7,706.2 1148.7,705.7 1150.2,691.9 1154.5,691.9 1156.3,697.7 1159.5,697.7 1163.3,691.9 1167.1,691.9 1168.3,684.4 1178.9,683.9" fill="none" stroke="#4472C4" stroke-width="1.8" stroke-linejoin="round" stroke-linecap="butt"/>
<polyline points="734.8,684.2 736.5,680.4 747.8,679.9 750.3,676.2 775.9,676.2 777.9,646.6 780.4,646.1 781.6,637.1 784.9,637.1 786.7,640.3 815.0,640.3 819.2,644.1 823.0,644.6 825.0,648.4 853.1,648.4 855.1,644.6 858.8,644.1 862.3,640.3 891.4,640.3 893.2,646.1 904.9,646.6 906.9,652.1 910.2,652.4 914.5,656.6 917.0,657.1 919.5,662.9 923.2,674.2 925.7,686.7 928.2,689.2 932.0,695.0 932.0,693.7 934.5,694.4 935.8,707.0 950.9,707.5 953.4,694.4 957.1,686.1 968.5,686.1 971.0,690.1 974.7,690.1 976.8,681.9 979.8,678.1 994.9,678.1 996.9,683.9 1002.4,684.4 1004.9,699.4 1008.2,699.4 1010.4,693.7 1013.7,693.7 1019.2,696.2 1021.2,702.0 1023.8,705.2 1027.5,711.3 1035.6,711.3 1037.1,707.5 1085.4,707.5 1087.4,711.5 1089.6,712.0 1091.1,715.3 1094.2,715.8 1096.2,717.6 1112.5,717.6 1114.8,715.3 1120.6,715.3 1123.6,700.0 1129.4,693.2 1131.4,686.1 1157.0,686.1 1159.0,681.9 1164.6,681.9 1166.6,683.9 1178.9,683.9" fill="none" stroke="#ED7D31" stroke-width="1.8" stroke-linejoin="round" stroke-linecap="butt"/>
<polyline points="734.8,684.2 736.0,678.4 786.1,678.4 787.9,682.2 799.2,682.2 802.4,685.4 805.9,699.7 827.5,699.7 830.5,707.2 837.5,707.7 839.3,711.7 841.8,713.7 844.8,714.2 846.3,723.0 855.6,723.5 858.6,733.0 861.8,733.5 865.1,744.8 896.9,744.8 899.4,728.5 900.7,726.8 902.4,719.7 908.9,719.7 910.7,721.2 914.0,721.2 916.5,716.7 919.0,700.4 922.7,699.7 924.5,695.9 932.0,695.9 932.0,695.2 935.0,695.7 936.5,699.4 944.6,699.4 948.3,695.7 965.9,695.2 968.5,691.9 976.0,691.4 978.0,686.1 994.9,685.6 996.6,679.8 999.9,679.3 1002.4,676.1 1017.5,676.1" fill="none" stroke="#FF0000" stroke-width="2.0" stroke-linejoin="round" stroke-linecap="butt"/>
<line x1="832.2" y1="489.9" x2="857.8" y2="489.9" stroke="#4472C4" stroke-width="1.8" stroke-linecap="round"/>
<text x="861.4" y="496.6" font-size="8" font-weight="normal" text-anchor="start" fill="#595959" >2018</text>
<text x="879.4" y="496.6" font-size="7" font-weight="normal" text-anchor="start" fill="#aaa" >:</text>
<line x1="907.4" y1="489.9" x2="933.6" y2="489.9" stroke="#ED7D31" stroke-width="1.8" stroke-linecap="round"/>
<text x="935.8" y="496.6" font-size="8" font-weight="normal" text-anchor="start" fill="#595959" >2019</text>
<line x1="982.7" y1="489.9" x2="1008.4" y2="489.9" stroke="#FF0000" stroke-width="2.2" stroke-linecap="round"/>
<text x="1011.2" y="496.6" font-size="8" font-weight="normal" text-anchor="start" fill="#595959" >2020</text>
<text x="815.6" y="451.5" font-size="16" font-weight="bold" text-anchor="middle" fill="#000" >Summary Price of Carbon</text>
<text x="814.9" y="469.8" font-size="16" font-weight="bold" text-anchor="middle" fill="#000" >Junction Round Steel:</text>
<text x="910.2" y="467.3" font-size="13.3" font-weight="normal" text-anchor="start" fill="#222" >45#:</text>
<text x="946.2" y="467.3" font-size="13.3" font-weight="normal" text-anchor="start" fill="#222" >80mm:</text>
<text x="989.3" y="469" font-size="16" font-weight="bold" text-anchor="start" fill="#000" textLength="97.8" lengthAdjust="spacingAndGlyphs">Tianjing(day)</text>
<text x="657.4" y="494" font-size="16" font-weight="bold" text-anchor="start" fill="#000" >Unit: RMB/Ton</text>
</svg>
</body></html>
